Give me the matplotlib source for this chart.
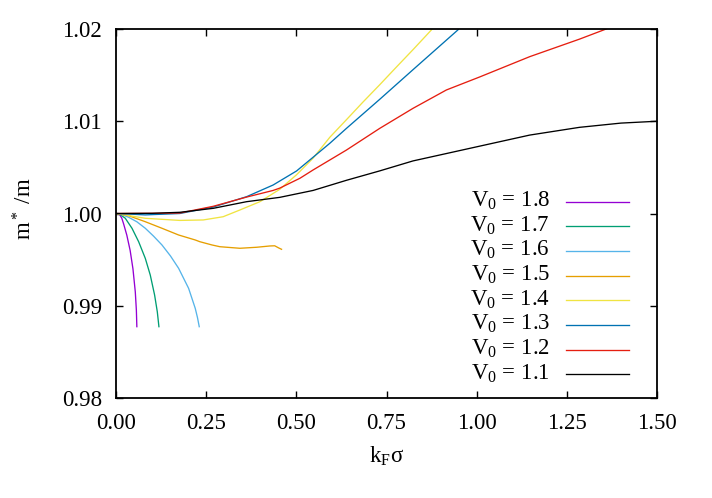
import matplotlib
matplotlib.use("Agg")
import matplotlib.pyplot as plt

plt.rcParams['font.family'] = ['Liberation Serif', 'DejaVu Serif']
plt.rcParams['mathtext.fontset'] = 'custom'
plt.rcParams['mathtext.rm'] = 'Liberation Serif'
plt.rcParams['mathtext.it'] = 'Liberation Serif:italic'

# data: V0 labels, colours, and per-series (k_F sigma, m*/m)
v0_labels = ["1.8", "1.7", "1.6", "1.5", "1.4", "1.3", "1.2", "1.1"]
colors = ["#9400d3", "#009e73", "#56b4e9", "#e69f00", "#f0e442", "#0072b2", "#e51e10", "#000000"]

x_18 = [0.0, 0.009, 0.016, 0.0213, 0.0300, 0.0392, 0.0470, 0.0535, 0.0565, 0.0578]
y_18 = [1.0, 0.99995, 0.9995, 0.99885, 0.99765, 0.9960, 0.9940, 0.9915, 0.9895, 0.98773]

x_17 = [0.0, 0.009, 0.0258, 0.0443, 0.0628, 0.0812, 0.095, 0.107, 0.1145, 0.119]
y_17 = [1.0, 0.99995, 0.99948, 0.9984, 0.99694, 0.99514, 0.99333, 0.99117, 0.98935, 0.98773]

x_16 = [0.0, 0.009, 0.0351, 0.0580, 0.0812, 0.1040, 0.1274, 0.1510, 0.1736, 0.2013, 0.2197, 0.2260, 0.2308]
y_16 = [1.0, 0.99998, 0.99959, 0.99910, 0.9984, 0.99755, 0.99659, 0.99540, 0.99406, 0.99189, 0.98972, 0.98870, 0.98773]

x_15 = [0.0, 0.0351, 0.0812, 0.1274, 0.1736, 0.2197, 0.2327, 0.266, 0.288, 0.3435, 0.39, 0.4266, 0.44, 0.452, 0.459]
y_15 = [1.0, 0.99976, 0.99911, 0.9984, 0.99767, 0.99713, 0.99694, 0.99659, 0.9964, 0.99623, 0.99634, 0.99648, 0.9965, 0.99625, 0.99612]

x_14 = [0.0, 0.0812, 0.177, 0.2419, 0.297, 0.3435, 0.399, 0.454, 0.5006, 0.5465, 0.5928, 0.639, 0.685, 0.7313, 0.7776, 0.8235, 0.8745, 0.877]
y_14 = [1.0, 0.99948, 0.99925, 0.9993, 0.99965, 1.00038, 1.00128, 1.00262, 1.0042, 1.0060, 1.00826, 1.01017, 1.01209, 1.01396, 1.01588, 1.01776, 1.0199, 1.0201]

x_13 = [0.0, 0.0812, 0.177, 0.2696, 0.362, 0.4357, 0.454, 0.5006, 0.5465, 0.5928, 0.639, 0.7313, 0.8235, 0.948, 0.951]
y_13 = [1.0, 0.99985, 1.0, 1.0007, 1.00182, 1.00309, 1.00352, 1.00461, 1.0061, 1.00761, 1.00923, 1.01238, 1.01559, 1.0199, 1.0201]

x_12 = [0.0, 0.1, 0.177, 0.2696, 0.362, 0.4357, 0.454, 0.51, 0.5465, 0.639, 0.7313, 0.8235, 0.916, 1.0083, 1.147, 1.285, 1.359, 1.365]
y_12 = [1.0, 1.00002, 1.00005, 1.00078, 1.00178, 1.0025, 1.00275, 1.00382, 1.00472, 1.00688, 1.00923, 1.0114, 1.01339, 1.0148, 1.0170, 1.0189, 1.0200, 1.0201]

x_11 = [0.0, 0.1, 0.177, 0.2696, 0.362, 0.454, 0.5465, 0.639, 0.7313, 0.8235, 0.916, 1.0083, 1.147, 1.285, 1.4, 1.5]
y_11 = [1.0, 1.00002, 1.00013, 1.00056, 1.00128, 1.00175, 1.0025, 1.0036, 1.00462, 1.0057, 1.0065, 1.0073, 1.0085, 1.00934, 1.0098, 1.0100]

series_x = [x_18, x_17, x_16, x_15, x_14, x_13, x_12, x_11]
series_y = [y_18, y_17, y_16, y_15, y_14, y_13, y_12, y_11]

x_ticks = [0.0, 0.25, 0.5, 0.75, 1.0, 1.25, 1.5]
y_ticks = [0.98, 0.99, 1.00, 1.01, 1.02]

W, H = 712, 498
L, R, T, B = 116, 657, 29, 398
fig = plt.figure(figsize=(W / 100, H / 100), dpi=100)
ax = fig.add_axes([L / W, 1 - B / H, (R - L) / W, (B - T) / H])

FS = 16.5
for lab, c, xs, ys in zip(v0_labels, colors, series_x, series_y):
    ax.plot(xs, ys, color=c, lw=0.95)

ax.set_xlim(0, 1.5)
ax.set_ylim(0.98, 1.02)
ax.set_xticks(x_ticks)
ax.set_xticklabels([f"{t:.2f}" for t in x_ticks])
ax.set_yticks(y_ticks)
ax.set_yticklabels([f"{t:.2f}" for t in y_ticks])
ax.tick_params(direction='in', length=5, width=1.0, top=True, right=True,
               labelsize=FS)
ax.tick_params(axis='x', pad=11)
ax.tick_params(axis='y', pad=10)
for s in ax.spines.values():
    s.set_linewidth(1.3)

def fx(px):
    return (px - L) / (R - L)

def fy(py):
    return (B - py) / (B - T)

ax.set_xlabel(r'k$_\mathrm{F}$σ', fontsize=FS)
ax.xaxis.set_label_coords(0.5, fy(445))
ax.set_ylabel(r'm$^*$ /m', fontsize=FS)
ax.yaxis.set_label_coords(fx(37), fy(208.5))

# key (gnuplot style, text right-aligned, sample on the right)
row0, pitch = 201.7, 24.66
for i, (lab, c) in enumerate(zip(v0_labels, colors)):
    yy = row0 + i * pitch
    ax.plot([fx(566), fx(629)], [fy(yy), fy(yy)], color=c, lw=0.95,
            transform=ax.transAxes, clip_on=False)
    ax.text(fx(550), fy(yy + 5), r'V$_0$ = ' + lab, transform=ax.transAxes,
            ha='right', va='baseline', fontsize=FS)

fig.savefig("out.png", dpi=100)
